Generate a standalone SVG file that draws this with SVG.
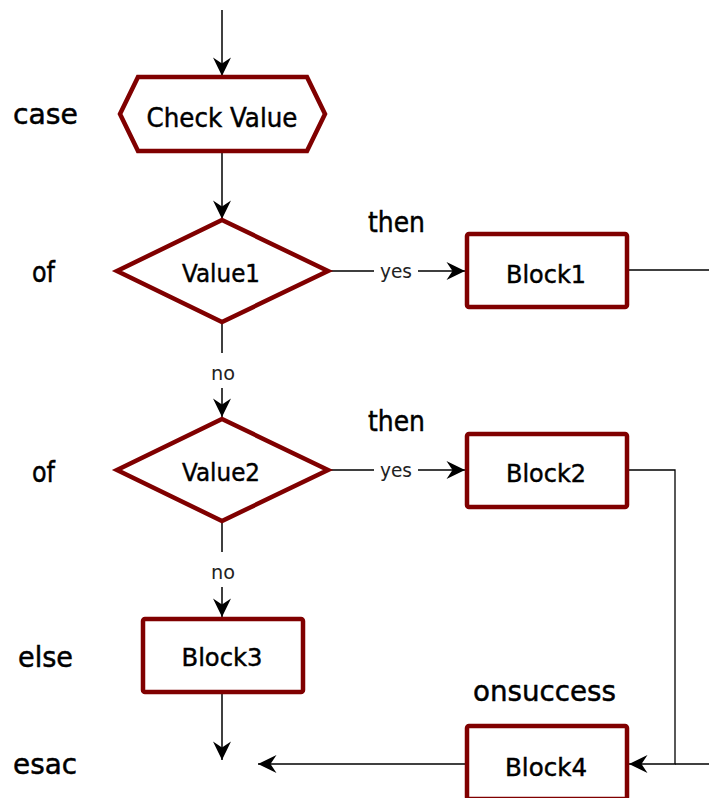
<svg xmlns="http://www.w3.org/2000/svg" width="709" height="798" viewBox="0 0 709 798">
<defs>
<marker id="arr" markerUnits="userSpaceOnUse" markerWidth="22" markerHeight="22" viewBox="-20 -10 22 20" refX="0" refY="0" orient="auto">
<path d="M0,0 L-18.5,-9 L-12.5,0 L-18.5,9 Z" fill="#000"/>
</marker>
<style>
.node{fill:#fff;stroke:#800000;stroke-width:4.5}
.lbl{font-family:"DejaVu Sans","Liberation Sans",sans-serif;font-size:25px;fill:#000;stroke:#000;stroke-width:0.45}
.kw{font-family:"DejaVu Sans","Liberation Sans",sans-serif;font-size:29px;fill:#000;stroke:#000;stroke-width:0.5}
.edge{fill:none;stroke:#000;stroke-width:1.5}
.el{font-family:"DejaVu Sans","Liberation Sans",sans-serif;font-size:20px;fill:#222}
</style>
</defs>
<rect width="709" height="798" fill="#fff"/>
<g id="keywords">
<text class="kw" x="13" y="124" textLength="65" lengthAdjust="spacingAndGlyphs">case</text>
<text class="kw" x="32" y="282" textLength="23" lengthAdjust="spacingAndGlyphs">of</text>
<text class="kw" x="32" y="482" textLength="23" lengthAdjust="spacingAndGlyphs">of</text>
<text class="kw" x="18" y="667" textLength="55" lengthAdjust="spacingAndGlyphs">else</text>
<text class="kw" x="13" y="774" textLength="64" lengthAdjust="spacingAndGlyphs">esac</text>
<text class="kw" x="368" y="232" textLength="57" lengthAdjust="spacingAndGlyphs">then</text>
<text class="kw" x="368" y="431" textLength="57" lengthAdjust="spacingAndGlyphs">then</text>
<text class="kw" x="473" y="701" textLength="143" lengthAdjust="spacingAndGlyphs">onsuccess</text>
</g>
<g id="connectors">
<path class="edge" d="M222,10 V76" marker-end="url(#arr)"/>
<path class="edge" d="M222,152 V219" marker-end="url(#arr)"/>
<path class="edge" d="M328,271 H374 M418,271 H465" marker-end="url(#arr)"/>
<path class="edge" d="M627,270 H709"/>
<path class="edge" d="M222,322 V353 M222,388 V417" marker-end="url(#arr)"/>
<path class="edge" d="M328,470 H374 M418,470 H465" marker-end="url(#arr)"/>
<path class="edge" d="M222,521 V552 M222,587 V617" marker-end="url(#arr)"/>
<path class="edge" d="M222,693 V760" marker-end="url(#arr)"/>
<path class="edge" d="M627,470 H675 V764 H629" style="stroke-width:1.3" marker-end="url(#arr)"/>
<path class="edge" d="M709,764 H675"/>
<path class="edge" d="M466,764 H258" marker-end="url(#arr)"/>
<text class="el" x="396" y="278" text-anchor="middle" textLength="32" lengthAdjust="spacingAndGlyphs">yes</text>
<text class="el" x="396" y="477" text-anchor="middle" textLength="32" lengthAdjust="spacingAndGlyphs">yes</text>
<text class="el" x="223" y="380" text-anchor="middle" textLength="24" lengthAdjust="spacingAndGlyphs">no</text>
<text class="el" x="223" y="579" text-anchor="middle" textLength="24" lengthAdjust="spacingAndGlyphs">no</text>
</g>
<g id="check">
<polygon class="node" points="120,114 138,77 307,77 325,114 307,151 138,151"/>
<text class="lbl" x="222" y="127" text-anchor="middle" textLength="151" lengthAdjust="spacingAndGlyphs" style="font-size:26px">Check Value</text>
</g>
<g id="value1">
<polygon class="node" points="222,220 328,271 222,322 117,271"/>
<text class="lbl" x="221" y="282" text-anchor="middle" textLength="78" lengthAdjust="spacingAndGlyphs">Value1</text>
</g>
<g id="value2">
<polygon class="node" points="222,419 328,470 222,521 117,470"/>
<text class="lbl" x="221" y="481" text-anchor="middle" textLength="78" lengthAdjust="spacingAndGlyphs">Value2</text>
</g>
<g id="block1">
<rect class="node" x="467" y="234" width="160" height="73" rx="2"/>
<text class="lbl" x="546" y="283" text-anchor="middle" textLength="80" lengthAdjust="spacingAndGlyphs">Block1</text>
</g>
<g id="block2">
<rect class="node" x="467" y="434" width="160" height="73" rx="2"/>
<text class="lbl" x="546" y="482" text-anchor="middle" textLength="80" lengthAdjust="spacingAndGlyphs">Block2</text>
</g>
<g id="block3">
<rect class="node" x="143" y="619" width="160" height="73" rx="2"/>
<text class="lbl" x="222" y="666" text-anchor="middle" textLength="81" lengthAdjust="spacingAndGlyphs">Block3</text>
</g>
<g id="block4">
<rect class="node" x="467" y="726" width="160" height="73" rx="2"/>
<text class="lbl" x="546" y="776" text-anchor="middle" textLength="82" lengthAdjust="spacingAndGlyphs">Block4</text>
</g>
</svg>
